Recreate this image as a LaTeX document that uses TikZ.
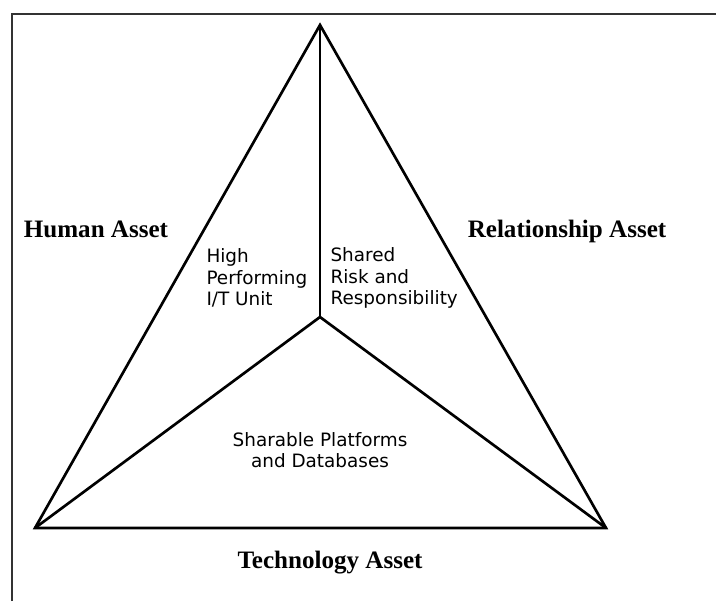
\documentclass[tikz,border=0pt]{standalone}
\usepackage{fontspec}
\setmainfont{Liberation Serif}
\newfontfamily\innerfont{DejaVu Sans}
\begin{document}
\begin{tikzpicture}[x=0.75pt, y=-0.75pt, thick]
    % Define styles
    \tikzstyle{asset} = [font=\fontsize{18.8}{22}\selectfont\bfseries, inner sep=0pt, anchor=base]
    \tikzstyle{area} = [font=\innerfont\fontsize{13.8}{16.2}\selectfont, inner sep=0pt]
    \tikzstyle{edge} = [draw, line width=2pt, line join=miter]
    \tikzstyle{frame} = [draw, line width=1.3pt, black!80]

    \useasboundingbox (0,0) rectangle (716,601);
    \path [frame] (12,601) -- (12,14) -- (716,14);

    % Corners of the triangle and its centre
    \coordinate (top) at (320,25);
    \coordinate (left) at (35,528);
    \coordinate (right) at (606,528);
    \coordinate (mid) at (320,317);

    % Outer triangle and the three spokes
    \path [edge] (top) -- (left) -- (right) -- cycle;
    \path [edge] (top) -- (mid);
    \path [edge] (left) -- (mid) -- (right);

    % Place nodes - assets
    \node [asset] (human) at (96,237) {Human Asset};
    \node [asset] (relation) at (567,237) {Relationship Asset};
    \node [asset] (techno) at (330,568) {Technology Asset};

    % Place nodes - inner areas
    \node [area, align=left, anchor=west] (unit) at (206,278) {High\\Performing\\I/T Unit};
    \node [area, align=left, anchor=west] (risk) at (330,278) {Shared\\Risk and\\Responsibility};
    \node [area, align=center] (platform) at (320,450) {Sharable Platforms\\and Databases};
\end{tikzpicture}
\end{document}
